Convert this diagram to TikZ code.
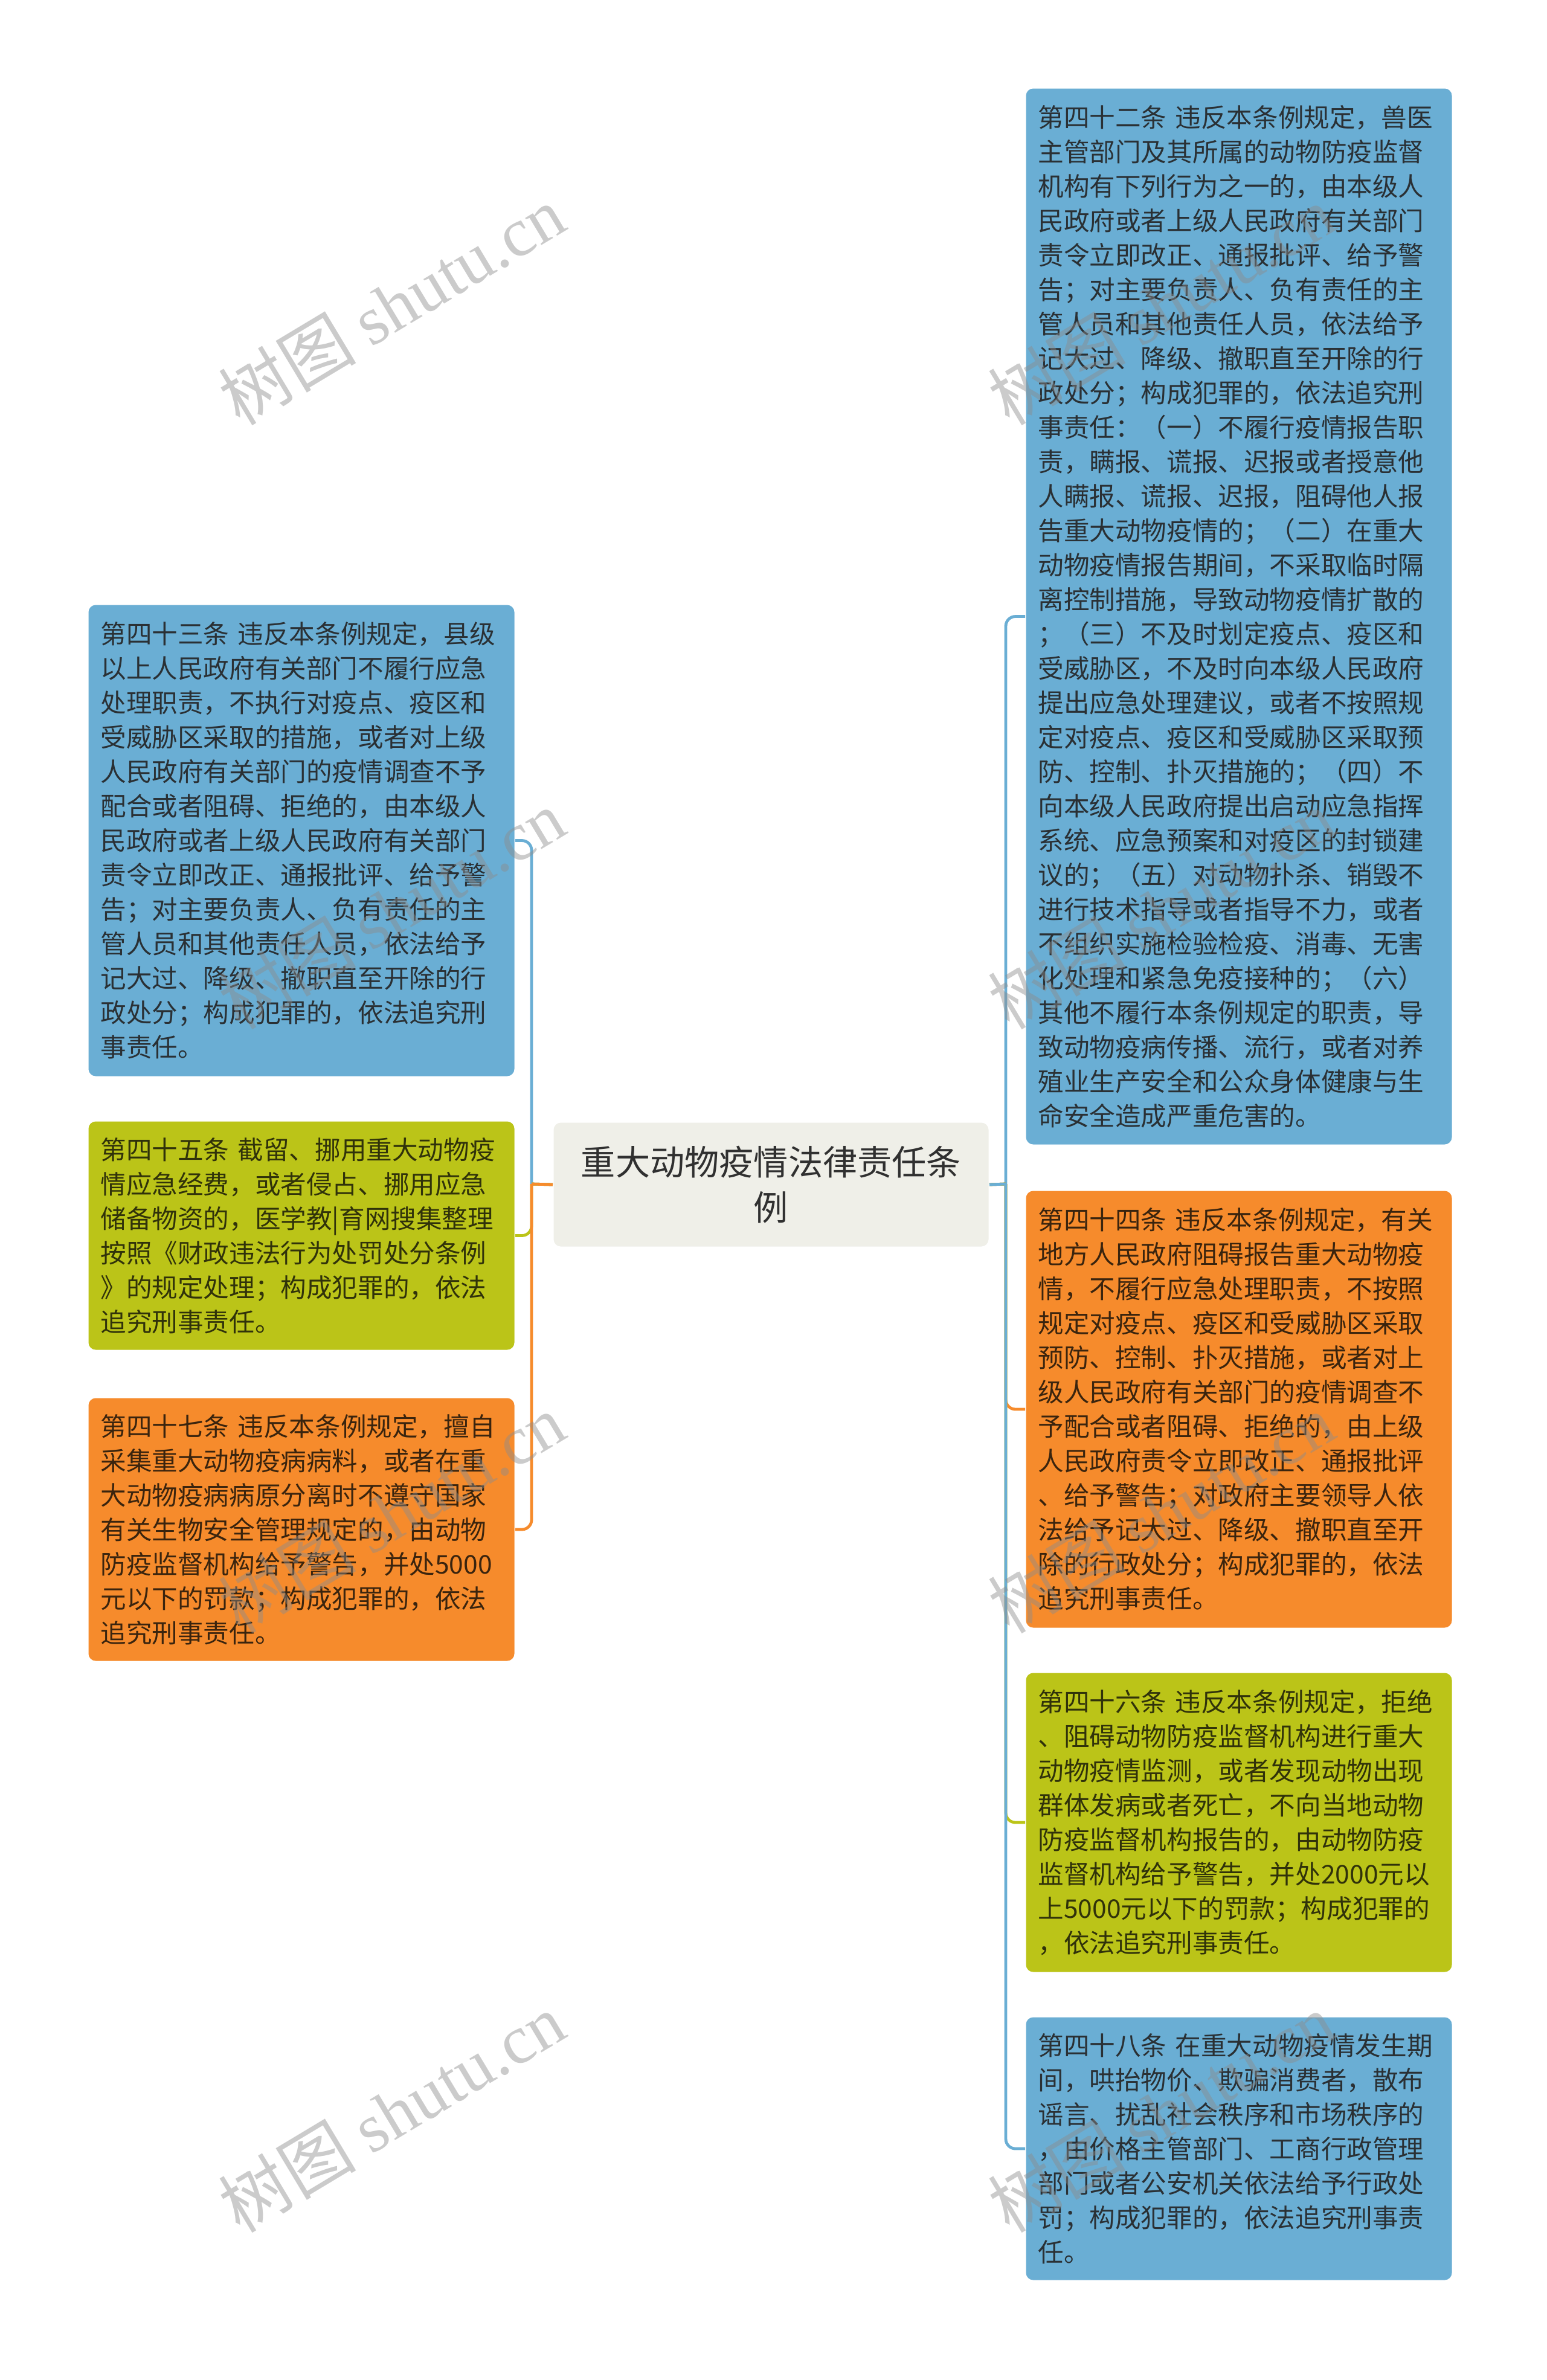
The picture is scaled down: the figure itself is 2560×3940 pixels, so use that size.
\documentclass[tikz,border=0pt]{standalone}
\usepackage{fontspec}
\setmainfont{Noto Sans CJK SC}
\newfontfamily\wmfont{Liberation Serif}

\definecolor{cardblue}{RGB}{106,174,212}
\definecolor{cardorange}{RGB}{246,139,44}
\definecolor{cardgreen}{RGB}{187,196,24}
\definecolor{rootgrey}{RGB}{239,239,232}
\definecolor{inkblue}{RGB}{42,48,52}
\definecolor{inkorange}{RGB}{58,36,14}
\definecolor{inkgreen}{RGB}{48,50,10}
\definecolor{inkroot}{RGB}{48,48,48}

\newcommand{\cardfont}{\fontsize{10.65pt}{14.25pt}\selectfont}
\newcommand{\rootfont}{\fontsize{14.3pt}{18.75pt}\selectfont}

\tikzset{every picture/.style={line width=0.75pt}}
\tikzset{
  card/.style={anchor=north west, inner xsep=5pt, inner ysep=0pt, rounded corners=3pt,
    text width=166.25pt, align=left, font=\cardfont},
  bluecard/.style={card, fill=cardblue, text=inkblue},
  orangecard/.style={card, fill=cardorange, text=inkorange},
  greencard/.style={card, fill=cardgreen, text=inkgreen},
  rootcard/.style={anchor=north west, inner sep=0pt, rounded corners=3pt, fill=rootgrey,
    text=inkroot, align=center, font=\rootfont, minimum width=180pt, minimum height=51.25pt},
  link/.style={line width=1.2pt, rounded corners=4pt},
  wmtext/.style={text=black!45, opacity=0.45, font=\fontsize{28.5pt}{30pt}\selectfont, inner sep=0pt}
}

\begin{document}
\begin{tikzpicture}[x=0.25pt,y=0.25pt,yscale=-1,xscale=1]
	\useasboundingbox (0,0) rectangle (2560,3940);
	\fill [white] (0,0) rectangle (2560,3940);

	% Root Node
	\node [rootcard] (root) at (915,1857) {重大动物疫情法律责任条\\例};

	% Text Node: right side
	\node [bluecard, minimum height=437pt] (r42) at (1697,145) {第四十二条 违反本条例规定，兽医\\主管部门及其所属的动物防疫监督\\机构有下列行为之一的，由本级人\\民政府或者上级人民政府有关部门\\责令立即改正、通报批评、给予警\\告；对主要负责人、负有责任的主\\管人员和其他责任人员，依法给予\\记大过、降级、撤职直至开除的行\\政处分；构成犯罪的，依法追究刑\\事责任：（一）不履行疫情报告职\\责，瞒报、谎报、迟报或者授意他\\人瞒报、谎报、迟报，阻碍他人报\\告重大动物疫情的；（二）在重大\\动物疫情报告期间，不采取临时隔\\离控制措施，导致动物疫情扩散的\\；（三）不及时划定疫点、疫区和\\受威胁区，不及时向本级人民政府\\提出应急处理建议，或者不按照规\\定对疫点、疫区和受威胁区采取预\\防、控制、扑灭措施的；（四）不\\向本级人民政府提出启动应急指挥\\系统、应急预案和对疫区的封锁建\\议的；（五）对动物扑杀、销毁不\\进行技术指导或者指导不力，或者\\不组织实施检验检疫、消毒、无害\\化处理和紧急免疫接种的；（六）\\其他不履行本条例规定的职责，导\\致动物疫病传播、流行，或者对养\\殖业生产安全和公众身体健康与生\\命安全造成严重危害的。};
	% Text Node
	\node [orangecard, minimum height=180.75pt] (r44) at (1697,1970) {第四十四条 违反本条例规定，有关\\地方人民政府阻碍报告重大动物疫\\情，不履行应急处理职责，不按照\\规定对疫点、疫区和受威胁区采取\\预防、控制、扑灭措施，或者对上\\级人民政府有关部门的疫情调查不\\予配合或者阻碍、拒绝的，由上级\\人民政府责令立即改正、通报批评\\、给予警告；对政府主要领导人依\\法给予记大过、降级、撤职直至开\\除的行政处分；构成犯罪的，依法\\追究刑事责任。};
	% Text Node
	\node [greencard, minimum height=123.75pt] (r46) at (1697,2768) {第四十六条 违反本条例规定，拒绝\\、阻碍动物防疫监督机构进行重大\\动物疫情监测，或者发现动物出现\\群体发病或者死亡，不向当地动物\\防疫监督机构报告的，由动物防疫\\监督机构给予警告，并处2000元以\\上5000元以下的罚款；构成犯罪的\\，依法追究刑事责任。};
	% Text Node
	\node [bluecard, minimum height=108.75pt] (r48) at (1697,3338) {第四十八条 在重大动物疫情发生期\\间，哄抬物价、欺骗消费者，散布\\谣言、扰乱社会秩序和市场秩序的\\，由价格主管部门、工商行政管理\\部门或者公安机关依法给予行政处\\罚；构成犯罪的，依法追究刑事责\\任。};

	% Text Node: left side
	\node [bluecard, minimum height=195pt] (l43) at (145,1000) {第四十三条 违反本条例规定，县级\\以上人民政府有关部门不履行应急\\处理职责，不执行对疫点、疫区和\\受威胁区采取的措施，或者对上级\\人民政府有关部门的疫情调查不予\\配合或者阻碍、拒绝的，由本级人\\民政府或者上级人民政府有关部门\\责令立即改正、通报批评、给予警\\告；对主要负责人、负有责任的主\\管人员和其他责任人员，依法给予\\记大过、降级、撤职直至开除的行\\政处分；构成犯罪的，依法追究刑\\事责任。};
	% Text Node
	\node [greencard, minimum height=94.5pt] (l45) at (145,1855) {第四十五条 截留、挪用重大动物疫\\情应急经费，或者侵占、挪用应急\\储备物资的，医学教|育网搜集整理\\按照《财政违法行为处罚处分条例\\》的规定处理；构成犯罪的，依法\\追究刑事责任。};
	% Text Node
	\node [orangecard, minimum height=108.75pt] (l47) at (145,2313) {第四十七条 违反本条例规定，擅自\\采集重大动物疫病病料，或者在重\\大动物疫病病原分离时不遵守国家\\有关生物安全管理规定的，由动物\\防疫监督机构给予警告，并处5000\\元以下的罚款；构成犯罪的，依法\\追究刑事责任。};

	% Junctions
	\coordinate (jL) at (880,1960);
	\coordinate (jR) at (1665,1960);

	%Connectors left
	\draw [link, color=cardblue] (root.west) -- (jL) (jL) |- (l43.east);
	\draw [link, color=cardgreen] (root.west) -- (jL) (jL) |- (l45.east);
	\draw [link, color=cardorange] (root.west) -- (jL) (jL) |- (l47.east);
	%Connectors right
	\draw [link, color=cardblue] (root.east) -- (jR) (jR) |- (r42.west);
	\draw [link, color=cardorange] (root.east) -- (jR) (jR) |- (r44.west);
	\draw [link, color=cardgreen] (root.east) -- (jR) (jR) |- (r46.west);
	\draw [link, color=cardblue] (root.east) -- (jR) (jR) |- (r48.west);

	% Watermarks
	\node [wmtext, rotate=31] (wm1) at (648,505) {树图 {\wmfont shutu.cn}};
	\node [wmtext, rotate=31] (wm2) at (648,1505) {树图 {\wmfont shutu.cn}};
	\node [wmtext, rotate=31] (wm3) at (648,2505) {树图 {\wmfont shutu.cn}};
	\node [wmtext, rotate=31] (wm4) at (648,3497) {树图 {\wmfont shutu.cn}};
	\node [wmtext, rotate=31] (wm5) at (1922,505) {树图 {\wmfont shutu.cn}};
	\node [wmtext, rotate=31] (wm6) at (1922,1505) {树图 {\wmfont shutu.cn}};
	\node [wmtext, rotate=31] (wm7) at (1922,2505) {树图 {\wmfont shutu.cn}};
	\node [wmtext, rotate=31] (wm8) at (1922,3497) {树图 {\wmfont shutu.cn}};
\end{tikzpicture}
\end{document}
